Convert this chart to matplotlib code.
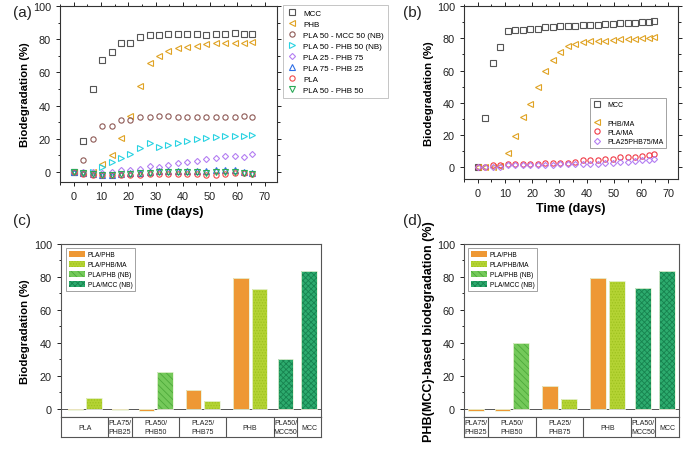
import matplotlib
matplotlib.use("Agg")
import matplotlib.pyplot as plt
from matplotlib.ticker import MultipleLocator
from matplotlib.lines import Line2D
from matplotlib.patches import Patch

plt.rcParams['font.family'] = ['Liberation Sans', 'DejaVu Sans']
plt.rcParams['hatch.linewidth'] = 0.6

# ---------------- data (a) ----------------
t_a = [0, 3.5, 7, 10.4, 13.9, 17.4, 20.8, 24.3, 27.8, 31.2, 34.7, 38.2, 41.6, 45.1, 48.6, 52, 55.5, 59, 62.4, 65.5]
a_mcc = [0, 18.4, 50, 67.4, 72, 77.6, 77.6, 81.4, 82.6, 82.8, 83.2, 83.2, 83.2, 83, 82.8, 83, 83.4, 83.8, 83.2, 83.2]
a_phb = [0, -0.5, 0, 5, 10, 20.4, 33.6, 51.6, 65.6, 70, 72.6, 74.8, 75.4, 76.2, 77, 77.8, 78, 78, 78, 78.2]
a_pla50_mcc50 = [0, 7.4, 19.6, 27.8, 27.8, 31.6, 31.6, 33, 33, 33.8, 33.6, 33.4, 33.2, 33.2, 33, 33, 33.2, 33.2, 33.6, 33.2]
a_pla50_phb50_nb = [0, -0.5, 0, 3, 6, 8.6, 10.8, 14.4, 17.6, 15.2, 16.4, 17.6, 18.4, 19.8, 20.4, 21.2, 21.8, 21.8, 21.8, 22.2]
a_pla25_phb75 = [0, 0, 0, -0.5, 0, 1, 1, 1.8, 3.4, 3.2, 4.4, 5.2, 6, 6.4, 7.8, 8.6, 9.4, 9.6, 9.2, 11]
a_pla75_phb25 = [0, -0.5, -1, -1.5, -1.5, -1, -0.5, -0.5, 0, 0.5, 0.5, 0.5, 0.5, 0.5, 0.5, 1, 1, 1.5, 0, -0.5]
a_pla = [0, -1, -1.5, -2, -2, -1.5, -1.5, -1.5, -1, -1, -1, -1, -1, -1, -1.5, -1.5, -1, -0.5, -0.5, -1]
a_pla50_phb50 = [0, -0.5, -1, -1.5, -1.5, -1, -1, -0.5, -0.5, 0, 0, 0, 0, 0, -0.5, 0, 0, 0, -0.5, -1]

# ---------------- data (b) ----------------
t_b = [0, 2.6, 5.6, 8.3, 11, 13.8, 16.6, 19.3, 22.1, 24.8, 27.6, 30.3, 33.1, 35.8, 38.5, 41.3, 44, 46.8, 49.6, 52.3, 55, 57.8, 60.4, 63, 64.7]
b_mcc = [0, 30.8, 64.6, 74.5, 84.3, 85.1, 85.3, 85.7, 85.7, 87, 87.2, 87.4, 87.4, 87.6, 88.4, 88.4, 88.4, 88.8, 89, 89.4, 89.6, 89.6, 90, 90.3, 90.7]
b_phb_ma = [0, 0, 0.5, 1, 8.9, 19.3, 31.3, 39.5, 50.1, 60, 66.5, 71.8, 75, 76.6, 78, 78.3, 78.3, 78.5, 78.7, 79.3, 79.5, 79.7, 80.1, 80.3, 80.5]
b_pla_ma = [0, 0.5, 1.2, 1.5, 1.8, 1.8, 1.8, 2.2, 2.2, 3, 3, 3, 3, 3.2, 4.5, 4.5, 4.8, 5.2, 5.5, 6.2, 6.5, 6.6, 7.3, 7.5, 8.4]
b_pla25phb75_ma = [0, 0, 0.5, 0.2, 1.2, 1.3, 1.2, 1.2, 1.2, 1.5, 1.5, 1.8, 1.8, 1.8, 2.2, 2.2, 2.2, 2.6, 2.6, 3.2, 3.5, 3.8, 4.3, 4.6, 5]

# ---------------- data (c) ----------------
cat_c = ['PLA', 'PLA75/\nPHB25', 'PLA50/\nPHB50', 'PLA25/\nPHB75', 'PHB', 'PLA50/\nMCC50', 'MCC']
c_pla_phb = [-0.7, -0.7, -1.2, 11.2, 79.1, None, None]
c_pla_phb_ma = [6.7, None, None, 4.5, 72.8, None, None]
c_pla_phb_nb = [None, None, 22.3, None, None, None, None]
c_pla_mcc_nb = [None, None, None, None, None, 30.0, 83.6]

# ---------------- data (d) ----------------
cat_d = ['PLA75/\nPHB25', 'PLA50/\nPHB50', 'PLA25/\nPHB75', 'PHB', 'PLA50/\nMCC50', 'MCC']
d_pla_phb = [-1.6, -1.6, 13.8, 79.1, None, None]
d_pla_phb_ma = [None, None, 6.1, 77.7, None, None]
d_pla_phb_nb = [None, 40.0, None, None, None, None]
d_pla_mcc_nb = [None, None, None, None, 73.4, 83.6]

bar_labels = ['PLA/PHB', 'PLA/PHB/MA', 'PLA/PHB (NB)', 'PLA/MCC (NB)']
bar_styles = [
    dict(facecolor='#EE9834', edgecolor='#EE9834', hatch=None),
    dict(facecolor='#B4D334', edgecolor='#9EC21F', hatch='......'),
    dict(facecolor='#74C95A', edgecolor='#4DA93A', hatch='\\\\\\\\\\'),
    dict(facecolor='#2DAB6E', edgecolor='#17834F', hatch='xxxxxx'),
]

W, H = 685, 460
fig = plt.figure(figsize=(6.85, 4.6), dpi=100)


def fr(left, top, right, bottom):
    return [left / W, 1 - bottom / H, (right - left) / W, (bottom - top) / H]


def style_scatter_axes(ax):
    for s in ax.spines.values():
        s.set_color('#333333')
        s.set_linewidth(0.8)
    ax.tick_params(which='both', direction='out', top=True, right=True,
                   labelsize=7.8, colors='#222222', width=0.7)
    ax.tick_params(which='major', length=3)
    ax.tick_params(which='minor', length=1.8)
    ax.xaxis.set_major_locator(MultipleLocator(10))
    ax.xaxis.set_minor_locator(MultipleLocator(5))
    ax.yaxis.set_major_locator(MultipleLocator(20))
    ax.yaxis.set_minor_locator(MultipleLocator(10))
    ax.set_xlabel('Time (days)', fontsize=9, fontweight='bold', labelpad=3)
    ax.set_ylabel('Biodegradation (%)', fontsize=8.2, fontweight='bold', labelpad=2)


mk = dict(linestyle='none', markerfacecolor='none', markersize=3.8, markeredgewidth=0.8)

# ---------------- panel (a) ----------------
axa = fig.add_axes(fr(60, 7, 277, 183))
series_a = [
    (a_mcc, 's', '#555555', 'MCC'),
    (a_phb, '<', '#E0A324', 'PHB'),
    (a_pla50_mcc50, 'o', '#8E5A56', 'PLA 50 - MCC 50 (NB)'),
    (a_pla50_phb50_nb, '>', '#28D2E2', 'PLA 50 - PHB 50 (NB)'),
    (a_pla25_phb75, 'D', '#B47EF2', 'PLA 25 - PHB 75'),
    (a_pla75_phb25, '^', '#2F6FE6', 'PLA 75 - PHB 25'),
    (a_pla, 'o', '#F04A4A', 'PLA'),
    (a_pla50_phb50, 'v', '#2BAA58', 'PLA 50 - PHB 50'),
]
for vals, m, c, lab in series_a:
    ms = 3.1 if m == 'D' else 3.8
    axa.plot(t_a, vals, marker=m, color=c, label=lab,
             **{**mk, 'markersize': ms})
axa.set_xlim(-5, 74.5)
axa.set_ylim(-6, 100)
style_scatter_axes(axa)
leg_a = axa.legend(loc='upper left', bbox_to_anchor=(283 / W, 1 - 6 / H),
                   bbox_transform=fig.transFigure, fontsize=5.8, frameon=True,
                   fancybox=False, edgecolor='#aaaaaa', borderpad=0.5,
                   labelspacing=0.42, handletextpad=0.8, handlelength=1.2,
                   borderaxespad=0)
leg_a.get_frame().set_linewidth(0.6)

# ---------------- panel (b) ----------------
axb = fig.add_axes(fr(464, 7, 678, 180))
hb1, = axb.plot(t_b, b_mcc, marker='s', color='#555555', label='MCC', **mk)
hb2, = axb.plot(t_b, b_phb_ma, marker='<', color='#E0A324', label='PHB/MA', **mk)
hb3, = axb.plot(t_b, b_pla_ma, marker='o', color='#F03A46', label='PLA/MA', **mk)
hb4, = axb.plot(t_b, b_pla25phb75_ma, marker='D', color='#B47EF2', label='PLA25PHB75/MA',
                **{**mk, 'markersize': 3.1})
axb.set_xlim(-5, 73.5)
axb.set_ylim(-7.2, 100)
style_scatter_axes(axb)
blank = Line2D([], [], linestyle='none', marker=None)
leg_b = axb.legend([hb1, blank, hb2, hb3, hb4], ['MCC', ' ', 'PHB/MA', 'PLA/MA', 'PLA25PHB75/MA'],
                   loc='upper left', bbox_to_anchor=(590 / W, 1 - 99 / H),
                   bbox_transform=fig.transFigure, fontsize=5, frameon=True,
                   fancybox=False, edgecolor='#777777', borderpad=0.45,
                   labelspacing=0.32, handletextpad=0.8, handlelength=1.2,
                   borderaxespad=0)
leg_b.get_frame().set_linewidth(0.6)

# panel letters
for txt, x, y in [('(a)', 13, 13), ('(b)', 403, 13), ('(c)', 13, 221), ('(d)', 403, 221)]:
    fig.text(x / W, 1 - y / H, txt, fontsize=11, va='center', ha='left', color='#222222')


# ---------------- bar panels ----------------
def bar_panel(left, right, cats, series, ylabel, ylabel_size, ylabel_pad):
    ax = fig.add_axes(fr(left, 245, right, 418))
    axc = fig.add_axes(fr(left, 418, right, 438))
    n = len(cats)
    counts = [sum(1 for s in series if s[i] is not None) for i in range(n)]
    total = sum(counts)
    bounds = [0]
    for c in counts:
        bounds.append(bounds[-1] + c)
    bw = 0.66
    off = 0.39
    for i in range(n):
        center = (bounds[i] + bounds[i + 1]) / 2
        present = [k for k, s in enumerate(series) if s[i] is not None]
        if len(present) == 1:
            xs = [center]
        else:
            xs = [center - off, center + off]
        for x, k in zip(xs, present):
            st = bar_styles[k]
            ax.bar(x, series[k][i], width=bw, color=st['facecolor'],
                   edgecolor=st['edgecolor'], hatch=st['hatch'], linewidth=0, zorder=2)
            ax.bar(x, series[k][i], width=bw, fill=False,
                   edgecolor='#e9f3d8', linewidth=0.6, zorder=3)
    ax.axhline(0, color='#555555', linewidth=0.7, zorder=1)
    ax.set_xlim(0, total)
    ax.set_ylim(-5, 100)
    ax.set_xticks([])
    ax.yaxis.set_major_locator(MultipleLocator(20))
    ax.yaxis.set_minor_locator(MultipleLocator(10))
    ax.tick_params(which='both', direction='out', labelsize=7.8, colors='#222222', width=0.7)
    ax.tick_params(which='major', length=3)
    ax.tick_params(which='minor', length=1.8)
    for s in ax.spines.values():
        s.set_color('#555555')
        s.set_linewidth(0.8)
    ax.set_ylabel(ylabel, fontsize=ylabel_size, fontweight='bold', labelpad=ylabel_pad)
    # category box
    axc.set_xlim(0, total)
    axc.set_ylim(0, 1)
    axc.set_xticks([])
    axc.set_yticks([])
    for s in axc.spines.values():
        s.set_color('#555555')
        s.set_linewidth(0.8)
    for b in bounds[1:-1]:
        axc.axvline(b, color='#555555', linewidth=0.8)
    for i, c in enumerate(cats):
        axc.text((bounds[i] + bounds[i + 1]) / 2, 0.5, c, ha='center', va='center',
                 fontsize=5, linespacing=1.3, color='#222222')
    handles = [Patch(facecolor=st['facecolor'], edgecolor=st['edgecolor'], hatch=st['hatch'],
                     linewidth=0) for st in bar_styles]
    leg = ax.legend(handles, bar_labels, loc='upper left', fontsize=4.8, frameon=True,
                    fancybox=False, edgecolor='#777777', borderpad=0.35,
                    labelspacing=0.35, handletextpad=0.5, handlelength=2.4,
                    handleheight=1.2, bbox_to_anchor=(0.02, 0.975), borderaxespad=0)
    leg.get_frame().set_linewidth(0.6)
    return ax


bar_panel(61, 321, cat_c, [c_pla_phb, c_pla_phb_ma, c_pla_phb_nb, c_pla_mcc_nb],
          'Biodegradation (%)', 8.2, 3)
bar_panel(464, 679, cat_d, [d_pla_phb, d_pla_phb_ma, d_pla_phb_nb, d_pla_mcc_nb],
          'PHB(MCC)-based biodegradation (%)', 9, 1)

fig.savefig('out.png', dpi=100)
